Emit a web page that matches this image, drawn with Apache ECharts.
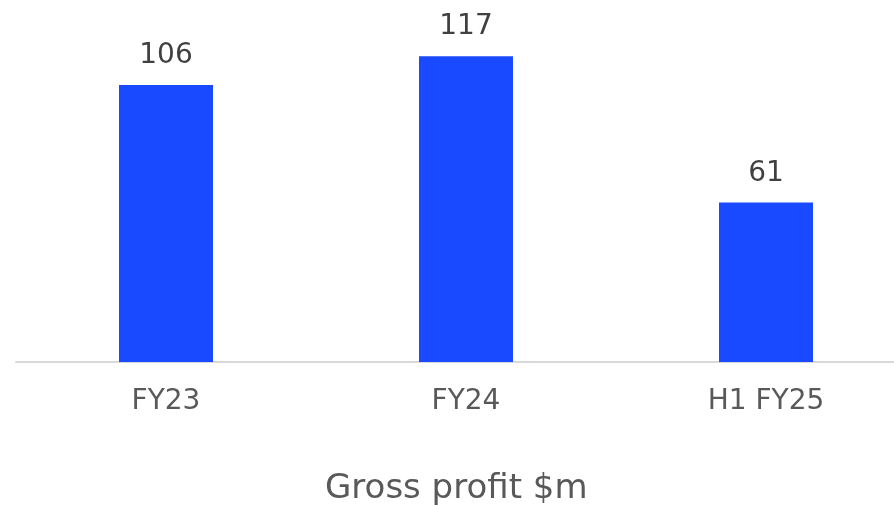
<!DOCTYPE html>
<html>
<head>
<meta charset="utf-8">
<script src="https://cdn.jsdelivr.net/npm/echarts@6/dist/echarts.min.js"></script>
<style>
  html, body { margin: 0; padding: 0; background: #fff; }
  #chart { width: 894px; height: 505px; }
</style>
</head>
<body>
<div id="chart"></div>
<script>
// data
var categories = ["FY23", "FY24", "H1 FY25"];
var grossProfit = [106, 117, 61];
var chartTitle = "Gross profit $m";

var chart = echarts.init(document.getElementById("chart"));
var font = "DejaVu Sans";

var option = {
  animation: false,
  title: {
    text: chartTitle,
    left: 320,
    top: 467,
    textStyle: { color: "#595959", fontSize: 34, fontWeight: "normal", fontFamily: font }
  },
  // plot runs past the right edge (the source image was cropped)
  grid: { left: 16, top: 0, width: 900, height: 362, outerBoundsMode: "none" },
  xAxis: {
    type: "category",
    data: categories,
    axisLine: { lineStyle: { color: "#d9d9d9", width: 2 } },
    axisTick: { show: false },
    axisLabel: { color: "#595959", fontSize: 28, fontFamily: font, margin: 26 }
  },
  yAxis: {
    type: "value",
    min: 0,
    max: 138.5,
    show: false,
    splitLine: { show: false }
  },
  series: [
    {
      type: "bar",
      data: grossProfit,
      barWidth: 94,
      itemStyle: { color: "#1a4aff" },
      label: {
        show: true,
        position: "top",
        distance: 15,
        color: "#404040",
        fontSize: 28,
        fontFamily: font
      }
    }
  ]
};

chart.setOption(option);
</script>
</body>
</html>
